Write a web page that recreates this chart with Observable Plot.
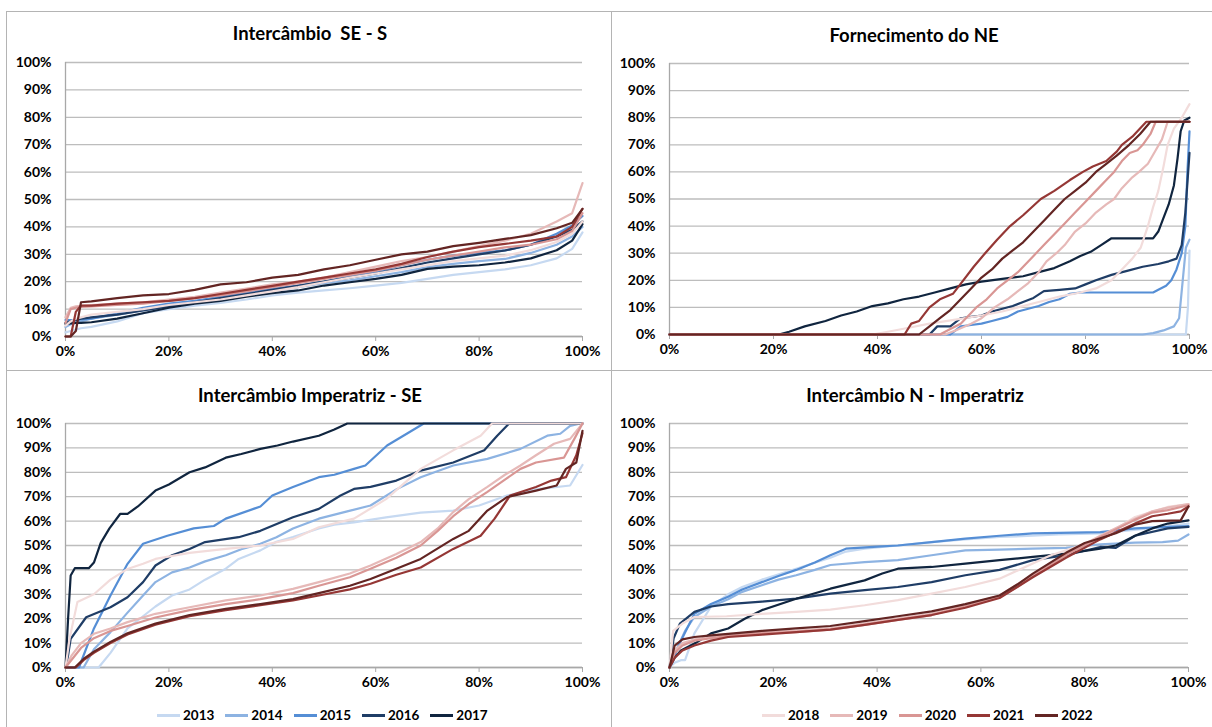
<!DOCTYPE html>
<html><head><meta charset="utf-8">
<script src="https://cdn.jsdelivr.net/npm/d3@7"></script>
<script src="https://cdn.jsdelivr.net/npm/@observablehq/plot@0.6"></script>
<style>
body{margin:0;background:#fff;font-family:Lato,"Open Sans",sans-serif;}
#root{position:relative;width:1212px;height:727px;overflow:hidden;background:#fff;}
.panel{position:absolute;}
.title{position:absolute;font-weight:700;font-size:18.5px;color:#000;transform:translate(-50%,-50%);white-space:pre;}
.legend{position:absolute;display:flex;align-items:center;font-weight:700;font-size:13.5px;color:#000;transform:translateY(-50%);}
.legend .item{display:flex;align-items:center;margin-right:11px;}
.legend .sw{width:23px;height:3px;margin-right:3px;}
.border{position:absolute;background:#b4b4b4;}
</style></head>
<body><div id="root"></div>
<script>
const years = ["2013","2014","2015","2016","2017","2018","2019","2020","2021","2022"];
const colors = ["#c6d9f1","#8db3e2","#558ed5","#1f3d66","#10253f","#f2dcdb","#e6b9b8","#d99694","#953735","#632523"];
const xTicks = [0,20,40,60,80,100];
const yTicks = [0,10,20,30,40,50,60,70,80,90,100];
const titles = ["Intercâmbio  SE - S","Fornecimento do NE","Intercâmbio Imperatriz - SE","Intercâmbio N - Imperatriz"];

// Panel 1: Intercâmbio SE - S (common x grid, % of time)
const gridSES = [0,1,2,3,5,10,15,20,25,30,35,40,45,50,55,60,65,70,75,80,85,90,95,98,100];
const seS = {
  "2013":[1.5,2,2.5,3,3.5,5.5,8.5,10,11.3,12.3,13.5,15,16,16.8,17.6,18.6,19.6,21,22.5,23.5,24.5,26,28.5,32,38],
  "2014":[3.5,4.5,5,5.5,6.5,8,9.5,11,12.5,14,15,16.5,18,19.5,20.5,22,23.5,25.3,26.5,27.5,28.3,30.5,33.5,36.5,40],
  "2015":[6,6,6,6.2,6.5,8.5,10.5,12,13,14.5,16,17.4,18.6,20,22,23.5,26,28,29.5,30.5,31.4,33.5,37.5,40.5,44],
  "2016":[5,5.5,6,6.5,7,8,9.5,11,12.5,14,15.5,17,18.5,20,21.5,23,25,27,28.5,30,31.4,33.5,36.5,39,42],
  "2017":[4.6,4.8,5,5,5.2,6.5,8.5,10.5,12,13,14.5,15.8,16.8,18.6,19.8,21,22.5,24.7,25.5,26,27,28.5,31.5,35,41],
  "2018":[4,5.5,6.5,7,8,9,10,11.5,12.5,13.5,15,16.5,18,19.8,21.5,23,24.5,26,27.5,28.5,29.5,31.5,34.5,37.5,42],
  "2019":[7,10.5,11,11.2,11.5,12,12.5,13.5,14.5,16,17.5,19,20,21.5,23.5,25.5,27.5,29,31,33,35,37.5,42,45,56],
  "2020":[5,10,10.5,10.8,11,11.5,12,13,14,15,16.5,18,19.5,21,22.5,24,26,28,29.5,31,32.5,33.5,35.5,38.5,45],
  "2021":[0,0,9,11.3,11.3,12,12.5,13,14,15.5,17,18.5,20,21.5,23,24.5,26.5,29,31,32.6,33.8,35,36.5,40,46.6],
  "2022":[0,0,2,12.5,12.8,14,15,15.5,17,19,19.8,21.5,22.5,24.5,26,28,30,31,33,34.2,35.6,37,39.5,41.5,46.6]
};

// Panel 2: Fornecimento do NE ([x, y] pairs)
const fornNE = {
  "2013":[[0,0],[99.3,0],[99.7,10],[100,31]],
  "2014":[[0,0],[91,0],[93,0.5],[95,1.5],[97,3],[98,6],[98.7,20],[99.3,32],[100,35]],
  "2015":[[0,0],[54,0],[56,3],[58,3.5],[60,4],[62,5],[65,6.5],[67,8.5],[69,9.5],[71,10.5],[73,12],[75,13],[77,15],[79,15.5],[93,15.5],[94,16.5],[95.5,18],[96.5,20],[97.5,24],[98.5,30],[99.2,40],[99.6,60],[100,75]],
  "2016":[[0,0],[50,0],[51.5,3],[54,3],[56,6],[58,6.5],[60,7],[62,8.5],[64,9.5],[66,10.5],[68,12],[70,13.5],[72,16],[75,16.5],[78,17],[80,18.5],[82,20],[85,22],[88,23.5],[91,25],[94,26],[96,27],[97.5,28],[98.5,33],[99.2,45],[100,67]],
  "2017":[[0,0],[21,0],[23,1],[26,3],[30,5],[33,7],[36,8.5],[39,10.5],[42,11.5],[45,13],[48,14],[51,15.5],[54,17],[57,18.5],[60,19.5],[64,20.5],[68,21.5],[71,23],[74,24.5],[77,27],[79,29],[81,30.5],[83,33],[85,35.5],[93,35.5],[94,38],[95,43],[96,48],[97,55],[97.7,65],[98.3,75],[99,79],[100,80]],
  "2018":[[0,0],[39,0],[42,1],[46,2.5],[50,4],[55,5.5],[60,7],[64,8.5],[67,10],[71,12],[75,14],[79,15.5],[82,17],[85,20],[87,24],[89,28],[90.6,32],[92,40],[93,47],[94,53],[95,62],[95.8,70],[97,76],[98.5,80],[100,85]],
  "2019":[[0,0],[53,0],[55,1.5],[58,4],[60,6],[62.5,10],[65,13],[67,16],[69,19],[71,23],[72.5,27],[74.4,30],[76,33],[78,38],[80,41],[82,45],[84,48],[85.5,50],[87,54],[89,58],[90.3,60],[92,63],[93.5,68],[94.7,72],[95.8,78.5],[100,78.5]],
  "2020":[[0,0],[52,0],[54,2],[56,4],[59,10],[61,13],[63,17],[65,20],[67,23],[70,29],[72,33],[74,37],[76,41],[78,45],[80,49],[82,53],[84,57],[85.5,60],[87,64],[88.5,67],[90,68],[91,70],[92.5,74],[93.5,78.5],[100,78.5]],
  "2021":[[0,0],[45.2,0],[46.5,4],[48,5],[50,10],[52,13],[54.5,15],[56.5,20],[58.5,25],[60.7,30],[63,35],[65.5,40],[68,44],[71.4,50],[74,53],[77,57],[79.5,60],[81.4,62],[84,64],[86,67.5],[87,70],[89,73],[91.7,78.5],[100,78.5]],
  "2022":[[0,0],[48,0],[50,3],[52,6],[54,9],[56,13],[58,17],[60,21],[62,24],[64,28],[66,31],[68,34],[70,38],[72,42],[74,46],[76,50],[78,53],[80,56],[82,60],[84,63],[86,66],[88.4,70],[90.5,74],[92.5,78.5],[100,78.5]]
};

// Panel 3: Intercâmbio Imperatriz - SE
const impSE = {
  "2013":[[0,0],[6.4,0],[8.7,6],[12,16],[15,21],[17.4,25],[20.6,29.5],[24,32],[27,36],[31,40.5],[33.5,44.5],[37.7,48],[40.8,51.5],[44,53.5],[49,57],[52,58.5],[55.8,59.5],[62,61.5],[68.7,63.5],[75,64.3],[80,66.4],[85.4,70.5],[91,73],[97.6,74.6],[100,83]],
  "2014":[[0,0],[3.5,0],[5.5,7.5],[8.7,14.5],[12,22.5],[15,29.5],[17.4,35],[20.6,39],[24,41],[27,43.5],[31,46],[34,48.5],[37.7,50.7],[40.8,53.4],[44,57],[49,61],[54.5,64],[59,66.4],[64,73],[68.7,78],[75,82.8],[81.6,85.5],[88,89.6],[93.2,95],[95.7,95.8],[97.6,99],[99.6,100],[100,100]],
  "2015":[[0,0],[2.6,0],[5.5,16],[8.7,29.5],[12,42.5],[15,50.7],[19.7,54],[24.8,57],[28.7,58],[31,61],[37.7,66],[40,70.5],[44,74],[49,78],[52,79],[55.8,81.4],[58,82.8],[62.2,91],[66,95.8],[69.3,100],[100,100]],
  "2016":[[0,0],[0.5,5],[1,11.7],[4,20.6],[8.7,24.7],[12,28.8],[15,35],[17.4,41.8],[20.6,46],[24,48.6],[27,51.4],[33.5,53.4],[37.7,56],[44,61.6],[49,65],[53.2,70.5],[55.8,73.2],[59,74],[64,76.6],[68.7,80.7],[75,84],[81,89],[83.5,95],[85.8,100],[100,100]],
  "2017":[[0,0],[0.5,20],[1,37.7],[1.8,40.7],[4.5,40.7],[5.5,43],[6.8,51],[8.5,57],[10.6,63],[12,63],[14,66],[17.4,72.5],[20,75],[24,80],[27,82],[31,86],[34,87.5],[37.7,89.6],[41,91],[44,92.6],[49,95],[52,97.5],[54.5,100],[100,100]],
  "2018":[[0,0],[0.8,12],[2.3,26.8],[5.5,30],[8.7,36],[12,40.4],[15,42.5],[17.4,44.5],[24,47],[31,48.6],[37.7,50],[44,52.7],[49,57.5],[55.8,61],[62,69],[68.7,81.4],[75,89],[80.3,95],[82.5,100],[100,100]],
  "2019":[[0,0],[1.2,5],[3,10],[5.5,13.8],[8.7,16],[12,18.6],[17.4,22],[24,24.7],[31,27.5],[37.7,29.5],[44,32.2],[49,35],[55,38.5],[59,41.8],[64,46.5],[68.7,51.4],[72,57],[75,63.7],[78,69],[81.6,74],[85,79],[88,82.8],[91,87],[94.5,91.7],[97.6,93.7],[100,100]],
  "2020":[[0,0],[1.5,4],[3,8],[5.5,12],[8.7,15],[12,17],[17.4,20.5],[24,23.5],[31,26],[37.7,28],[44,30.5],[49,33.5],[55,37],[59,40.5],[64,45],[68.7,50],[72,56],[75,62],[78,67],[81.6,72],[85,77],[88,81.4],[91,84],[96.4,86],[98.5,94],[100,100]],
  "2021":[[0,0],[2,0],[3.5,3],[5.5,6],[8.7,10],[12,13.5],[17.4,17.5],[24,21],[31,23.5],[37.7,25.5],[44,27.5],[49,29.5],[55,32],[59,34.3],[64,38],[68.7,41],[75,48.6],[80.3,54],[83,61],[86,70.5],[91,74],[94,76.6],[96.8,78],[98.8,87],[100,96]],
  "2022":[[0,0],[1.8,0],[3.5,3.5],[5.5,6.5],[8.7,10.5],[12,14],[17.4,18],[24,21.5],[31,24],[37.7,26],[44,28],[49,30.5],[55,33.5],[59,36.3],[64,40.5],[68.7,44.5],[75,52.7],[78,56],[81.6,64.3],[85.4,69.8],[91,72.5],[95,74.6],[96.8,81.4],[98.8,84],[100,97]]
};

// Panel 4: Intercâmbio N - Imperatriz
const nImp = {
  "2013":[[0,0],[1,2],[2.2,3],[3,3],[4.8,14],[8,25],[11.3,30],[14,33],[17.8,36],[24.4,40.5],[31,45],[34,47.5],[37.6,48.7],[44,50],[50.5,51.4],[57,52.5],[63.6,53.5],[70,54],[75,54.5],[83,55],[90,56.5],[95,57.5],[100,59]],
  "2014":[[0,0],[1.5,8],[3,15],[4.8,20.7],[8,25],[11.3,28],[14,31],[17.8,33.7],[21,36],[24.4,37.8],[28,40],[31,42],[37.6,43.2],[44,44],[50.5,46],[57,48],[63.6,48.3],[70,48.7],[76.4,49],[83,50.5],[89.7,51.2],[95,51.4],[98,52],[100,54.5]],
  "2015":[[0,0],[1,5],[2.2,11],[4.8,22],[8,26],[11.3,29],[14,32],[17.8,35],[21,37.5],[24.4,40],[28,43],[31,46],[34,48.7],[40,49.5],[44,50],[50.5,51.4],[57,52.8],[63.6,54],[70,55],[83,55.5],[89.7,57],[95,57.5],[100,58]],
  "2016":[[0,0],[0.8,12],[2,18],[4.8,22.8],[8,25],[11.3,26],[17.8,27],[24.4,28.2],[31,30.3],[37.6,31.7],[44,33],[50.5,35],[57,37.8],[63.6,40],[70,44],[76.4,46],[83,49.4],[86,49],[89.7,54],[96,57],[100,57.6]],
  "2017":[[0,0],[1,4],[2.2,7],[5,10],[8,14],[11.3,16],[14.5,20],[17.8,23.5],[24.4,28.2],[31,32.3],[37.6,35.7],[41,38.5],[44,40.5],[50.5,41.2],[57,42.6],[63.6,44],[70,45.3],[76.4,46.7],[83,48.7],[86,50],[89.7,54],[93,57],[96,59],[100,60.3]],
  "2018":[[0,0],[0.7,15],[2.5,18],[4.8,20.7],[11,21],[17.8,22],[24.4,22.8],[31,23.7],[37.6,25.5],[44,27.6],[50.5,30.3],[57,33],[63.6,36.4],[70,42.6],[73.5,46],[76.4,48],[83,52.8],[89.7,61.7],[96,65.8],[100,67]],
  "2019":[[0,0],[1,7],[2.5,10],[4.8,11.5],[8,12.5],[11.3,13.5],[17.8,14.5],[24.4,15],[31,16],[37.6,18],[44,20],[50.5,22],[57,25.5],[63.6,29.5],[67,34],[70,38],[76.4,46.5],[83,54],[89.7,61],[93,64],[96,65.5],[100,67]],
  "2020":[[0,0],[1,6],[2.5,9],[4.8,11],[8,12],[11.3,13],[17.8,14],[24.4,14.5],[31,15.5],[37.6,17.5],[44,19.5],[50.5,21.5],[57,25],[63.6,29],[67,33],[70,37.5],[76.4,46],[83,53.5],[89.7,60.5],[93,63.5],[96,64.5],[100,66.5]],
  "2021":[[0,0],[1,4],[2.5,7],[4.8,9],[8,11],[11.3,12.5],[17.8,13.5],[24.4,14.5],[31,15.5],[37.6,17.5],[44,19.5],[50.5,21.5],[57,24.5],[63.6,28.5],[67,33],[70,37],[76.4,45],[83,52.5],[89.7,59],[93,62],[96,63],[98.5,64],[100,66]],
  "2022":[[0,0],[1,9],[2.5,11.5],[4.8,12.5],[8,13.2],[11.3,13.8],[17.8,15],[24.4,16],[31,17],[37.6,19],[44,21],[50.5,23],[57,26],[63.6,29.5],[67,34],[70,38.5],[76.4,47],[80,51],[83,53],[86,55],[89.7,58.5],[93,60],[98.5,60.3],[100,66]]
};

function gridRows(grid, series) {
  return years.flatMap(yr => series[yr].map((v, i) => ({year: yr, x: grid[i], y: v})));
}
function pairRows(series) {
  return years.flatMap(yr => series[yr].map(([x, y]) => ({year: yr, x, y})));
}

function chart(rows, w, h, m) {
  return Plot.plot({
    width: w, height: h,
    marginLeft: m[0], marginTop: m[1], marginRight: m[2], marginBottom: m[3],
    style: {fontFamily: "Lato, 'Open Sans', sans-serif", fontSize: "14px", fontWeight: "700", background: "transparent", color: "#000", overflow: "visible"},
    x: {domain: [0, 100]},
    y: {domain: [0, 100]},
    color: {domain: years, range: colors},
    marks: [
      Plot.gridY(yTicks, {stroke: "#bdbdbd", strokeOpacity: 1, strokeWidth: 1.3}),
      Plot.ruleY([0], {stroke: "#a8a8a8", strokeWidth: 1.3}),
      Plot.ruleX([0], {stroke: "#a8a8a8", strokeWidth: 1.3}),
      Plot.axisX(xTicks, {tickFormat: d => d + "%", tickSize: 5, tickPadding: 5, stroke: "#a8a8a8", label: null}),
      Plot.axisY(yTicks, {tickFormat: d => d + "%", tickSize: 0, tickPadding: 14, label: null}),
      Plot.line(rows, {x: "x", y: "y", z: "year", stroke: "year", strokeWidth: 2.2, strokeLinejoin: "round"})
    ]
  });
}

const root = document.getElementById("root");
function place(el, left, top) {
  const d = document.createElement("div");
  d.className = "panel"; d.style.left = left + "px"; d.style.top = top + "px";
  d.appendChild(el); root.appendChild(d);
}
function border(l, t, w, h) {
  const d = document.createElement("div");
  d.className = "border";
  Object.assign(d.style, {left: l + "px", top: t + "px", width: w + "px", height: h + "px"});
  root.appendChild(d);
}
function title(text, cx, cy) {
  const d = document.createElement("div");
  d.className = "title"; d.textContent = text;
  d.style.left = cx + "px"; d.style.top = cy + "px";
  root.appendChild(d);
}
function legend(ys, left, cy) {
  const d = document.createElement("div");
  d.className = "legend"; d.style.left = left + "px"; d.style.top = cy + "px";
  ys.forEach(yr => {
    const it = document.createElement("div"); it.className = "item";
    const sw = document.createElement("div"); sw.className = "sw";
    sw.style.background = colors[years.indexOf(yr)];
    const tx = document.createElement("span"); tx.textContent = yr;
    it.appendChild(sw); it.appendChild(tx); d.appendChild(it);
  });
  root.appendChild(d);
}

border(6, 11, 1206, 1);
border(6, 11, 1, 716);
border(611, 11, 1, 716);
border(6, 370, 1206, 1);

place(chart(gridRows(gridSES, seS), 606, 370, [65, 62, 24, 34]), 0, 0);
place(chart(pairRows(fornNE), 606, 370, [63, 63, 23, 36]), 606, 0);
place(chart(pairRows(impSE), 606, 357, [65, 53, 24, 60]), 0, 370);
place(chart(pairRows(nImp), 606, 357, [63, 53, 24, 60]), 606, 370);

title(titles[0], 310, 33);
title(titles[1], 914, 35);
title(titles[2], 310, 395);
title(titles[3], 915, 395);

legend(years.slice(0, 5), 157, 715);
legend(years.slice(5), 762, 715);
</script></body></html>
